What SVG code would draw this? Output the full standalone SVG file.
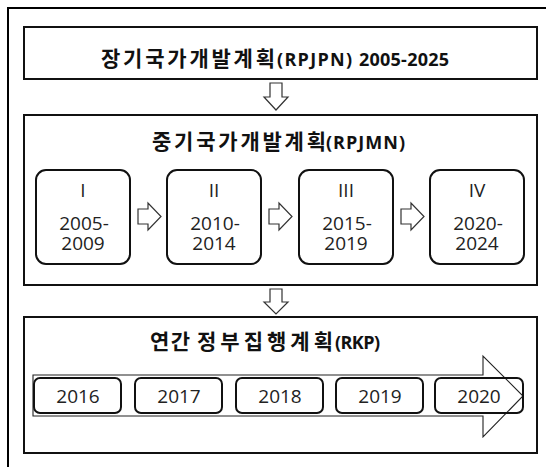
<svg xmlns="http://www.w3.org/2000/svg" width="546" height="467" viewBox="0 0 546 467">
<style>
.frame{fill:none;stroke:#000;stroke-width:2}
.box{fill:none;stroke:#111;stroke-width:2}
.rbox{fill:none;stroke:#111;stroke-width:2}
.arr{fill:#fff;stroke:#333;stroke-width:1.2;stroke-linejoin:miter}
.big{fill:none;stroke:#222;stroke-width:1.1}
.ko{font-family:"Noto Sans CJK KR","Noto Sans",sans-serif;font-weight:bold;font-size:21px;fill:#111}
.lt{font-family:"Open Sans","Liberation Sans",sans-serif;font-weight:bold;font-size:18px;fill:#111}
.num{font-family:"Open Sans","Liberation Sans",sans-serif;font-size:19px;fill:#222;text-anchor:middle}
</style>
<rect width="546" height="467" fill="#fff"/>
<rect class="frame" x="8" y="8" width="560" height="480"/>

<g id="connectors">
  <polygon class="arr" points="270,83 282,83 282,97 288,97 276,110 264,97 270,97"/>
  <polygon class="arr" points="270,289 282,289 282,302 288,302 276,314 264,302 270,302"/>
  <polygon class="arr" points="138,209 148,209 148,203 161,216.5 148,230 148,224 138,224"/>
  <polygon class="arr" points="269,209 279,209 279,203 292,216.5 279,230 279,224 269,224"/>
  <polygon class="arr" points="401,209 411,209 411,203 424,216.5 411,230 411,224 401,224"/>
  <polygon id="timeline-arrow" class="big" points="33,375 483,375 483,356 523,396 483,437 483,416 33,416"/>
</g>

<g id="rpjpn">
  <rect class="box" x="24" y="27" width="513" height="52"/>
  <text class="ko" x="101" y="66" textLength="174" lengthAdjust="spacing">장기국가개발계획</text>
  <text class="lt" x="277" y="66" textLength="75" lengthAdjust="spacing">(RPJPN)</text>
  <text class="lt" x="359" y="66" textLength="90" lengthAdjust="spacing">2005-2025</text>
</g>

<g id="rpjmn">
  <rect class="box" x="24" y="115" width="513" height="170"/>
  <text class="ko" x="152" y="149" textLength="174" lengthAdjust="spacing">중기국가개발계획</text>
  <text class="lt" x="326" y="149" textLength="79" lengthAdjust="spacing">(RPJMN)</text>
</g>

<g id="period-1">
  <rect class="rbox" x="36" y="170" width="94" height="94" rx="10"/>
  <text class="num" x="83" y="197">I</text>
  <text class="num" x="84" y="230">2005-</text>
  <text class="num" x="83" y="250">2009</text>
</g>
<g id="period-2">
  <rect class="rbox" x="167" y="170" width="94" height="94" rx="10"/>
  <text class="num" x="214" y="197">II</text>
  <text class="num" x="215" y="230">2010-</text>
  <text class="num" x="214" y="250">2014</text>
</g>
<g id="period-3">
  <rect class="rbox" x="299" y="170" width="94" height="94" rx="10"/>
  <text class="num" x="346" y="197">III</text>
  <text class="num" x="347" y="230">2015-</text>
  <text class="num" x="346" y="250">2019</text>
</g>
<g id="period-4">
  <rect class="rbox" x="430" y="170" width="94" height="94" rx="10"/>
  <text class="num" x="477" y="197">IV</text>
  <text class="num" x="478" y="230">2020-</text>
  <text class="num" x="477" y="250">2024</text>
</g>

<g id="rkp">
  <rect class="box" x="24" y="317" width="513" height="136"/>
  <text class="ko" x="150" y="349" textLength="40" lengthAdjust="spacing">연간</text>
  <text class="ko" x="197" y="349" textLength="136" lengthAdjust="spacing">정부집행계획</text>
  <text class="lt" x="335" y="349" textLength="45" lengthAdjust="spacing">(RKP)</text>
</g>

<g id="year-2016">
  <rect class="rbox" x="34" y="378" width="87" height="35" rx="6"/>
  <text class="num" x="78" y="403">2016</text>
</g>
<g id="year-2017">
  <rect class="rbox" x="135" y="378" width="87" height="35" rx="6"/>
  <text class="num" x="179" y="403">2017</text>
</g>
<g id="year-2018">
  <rect class="rbox" x="236" y="378" width="87" height="35" rx="6"/>
  <text class="num" x="280" y="403">2018</text>
</g>
<g id="year-2019">
  <rect class="rbox" x="336" y="378" width="87" height="35" rx="6"/>
  <text class="num" x="380" y="403">2019</text>
</g>
<g id="year-2020">
  <rect class="rbox" x="435" y="378" width="88" height="35" rx="6"/>
  <text class="num" x="479" y="403">2020</text>
</g>
</svg>
